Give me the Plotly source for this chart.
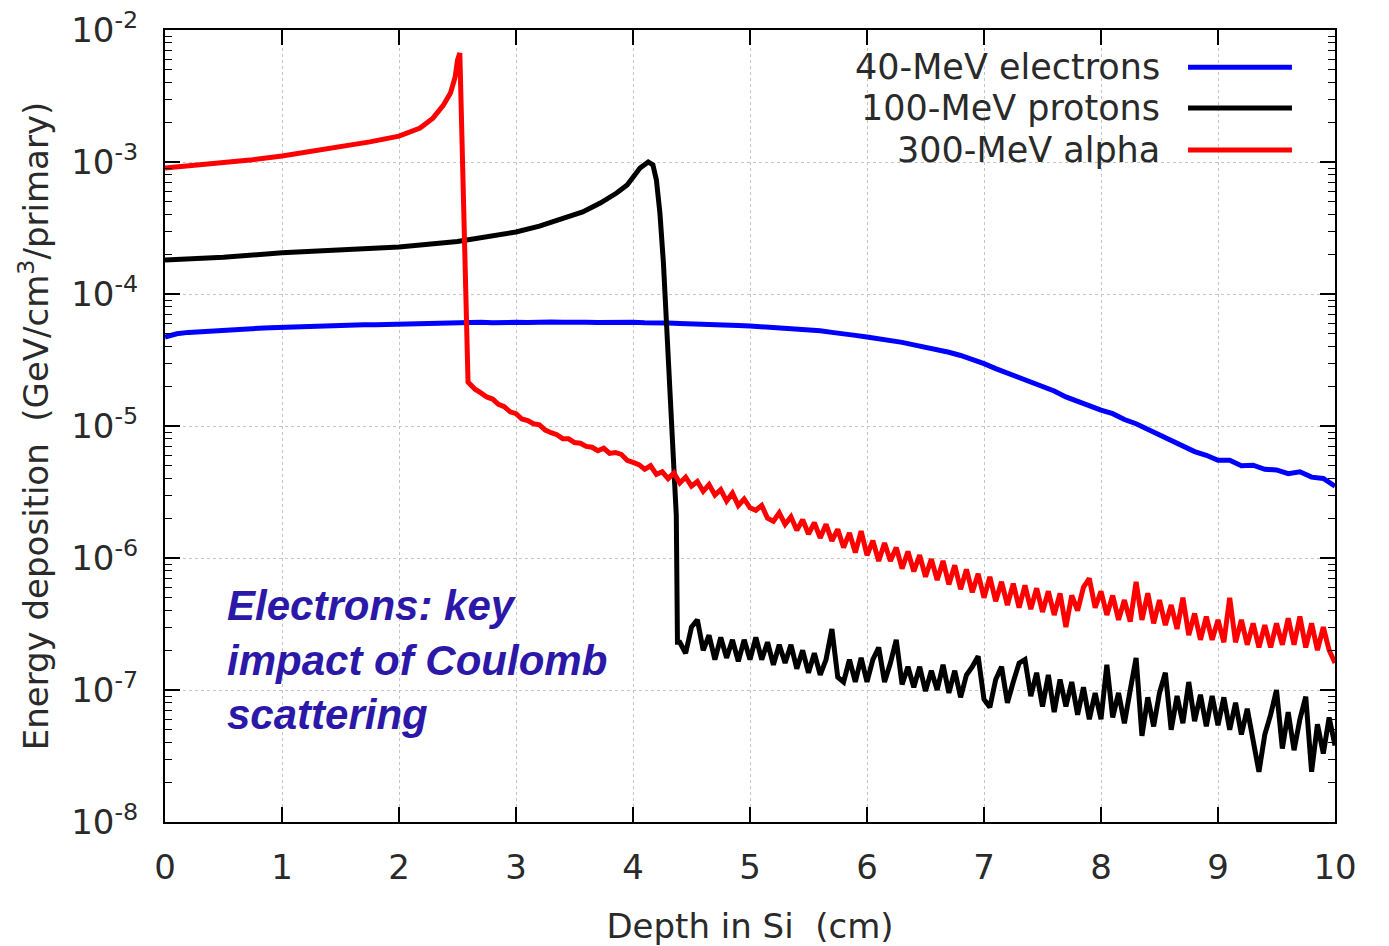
import plotly.graph_objects as go

# ---------------- data ----------------
electron_x = [0.0, 0.1, 0.2, 0.3, 0.4, 0.5, 0.6, 0.7, 0.8, 0.9,
              1.0, 1.1, 1.2, 1.3, 1.4, 1.5, 1.6, 1.7, 1.8, 1.9,
              2.0, 2.1, 2.2, 2.3, 2.4, 2.5, 2.6, 2.7, 2.8, 2.9,
              3.0, 3.1, 3.2, 3.3, 3.4, 3.5, 3.6, 3.7, 3.8, 3.9,
              4.0, 4.1, 4.2, 4.3, 4.4, 4.5, 4.6, 4.7, 4.8, 4.9,
              5.0, 5.1, 5.2, 5.3, 5.4, 5.5, 5.6, 5.7, 5.8, 5.9,
              6.0, 6.1, 6.2, 6.3, 6.4, 6.5, 6.6, 6.7, 6.8, 6.9,
              7.0, 7.1, 7.2, 7.3, 7.4, 7.5, 7.6, 7.7, 7.8, 7.9,
              8.0, 8.1, 8.2, 8.3, 8.4, 8.5, 8.6, 8.7, 8.8, 8.9,
              9.0, 9.1, 9.2, 9.3, 9.4, 9.5, 9.6, 9.7, 9.8, 9.9, 10.0]
electron_y = [4.72e-5, 5.0e-5, 5.12e-5, 5.2e-5, 5.28e-5, 5.35e-5, 5.4e-5, 5.44e-5, 5.5e-5, 5.55e-5,
              5.6e-5, 5.62e-5, 5.66e-5, 5.7e-5, 5.74e-5, 5.76e-5, 5.8e-5, 5.84e-5, 5.86e-5, 5.9e-5,
              5.93e-5, 5.95e-5, 6.0e-5, 6.02e-5, 5.98e-5, 6.05e-5, 6.08e-5, 6.1e-5, 6.05e-5, 6.12e-5,
              6.1e-5, 6.08e-5, 6.15e-5, 6.13e-5, 6.1e-5, 6.14e-5, 6.12e-5, 6.08e-5, 6.12e-5, 6.1e-5,
              6.1e-5, 6.05e-5, 6.08e-5, 6.03e-5, 5.98e-5, 5.96e-5, 5.92e-5, 5.88e-5, 5.82e-5, 5.78e-5,
              5.72e-5, 5.66e-5, 5.58e-5, 5.52e-5, 5.43e-5, 5.36e-5, 5.26e-5, 5.12e-5, 5.02e-5, 4.86e-5,
              4.72e-5, 4.6e-5, 4.46e-5, 4.3e-5, 4.12e-5, 3.96e-5, 3.8e-5, 3.62e-5, 3.42e-5, 3.22e-5,
              2.97e-5, 2.72e-5, 2.52e-5, 2.32e-5, 2.15e-5, 1.96e-5, 1.84e-5, 1.66e-5, 1.53e-5, 1.43e-5,
              1.32e-5, 1.24e-5, 1.12e-5, 1.04e-5, 9.4e-6, 8.7e-6, 7.8e-6, 7.1e-6, 6.4e-6, 6.0e-6,
              5.5e-6, 5.5e-6, 5.0e-6, 5.05e-6, 4.7e-6, 4.65e-6, 4.35e-6, 4.5e-6, 4.1e-6, 4.0e-6, 3.5e-6]

proton_x = [0.0, 0.5, 1.0, 1.5, 2.0, 2.5, 3.0, 3.2, 3.43, 3.57, 3.72, 3.86, 3.95, 4.0, 4.06,
            4.13, 4.17, 4.2, 4.23, 4.26, 4.29, 4.32, 4.34, 4.36, 4.37, 4.38,
            4.40, 4.45, 4.50, 4.55, 4.60, 4.65, 4.70, 4.75, 4.80, 4.85, 4.90, 4.95,
            5.00, 5.05, 5.10, 5.15, 5.20, 5.25, 5.30, 5.35, 5.40, 5.45,
            5.50, 5.55, 5.60, 5.65, 5.70, 5.75, 5.80, 5.85, 5.90, 5.95,
            6.00, 6.05, 6.10, 6.15, 6.20, 6.25, 6.30, 6.35, 6.40, 6.45,
            6.50, 6.55, 6.60, 6.65, 6.70, 6.75, 6.80, 6.85, 6.90, 6.95,
            7.00, 7.05, 7.10, 7.15, 7.20, 7.25, 7.30, 7.35, 7.40, 7.45,
            7.50, 7.55, 7.60, 7.65, 7.70, 7.75, 7.80, 7.85, 7.90, 7.95,
            8.00, 8.05, 8.10, 8.15, 8.20, 8.25, 8.30, 8.35, 8.40, 8.45,
            8.50, 8.55, 8.60, 8.65, 8.70, 8.75, 8.80, 8.85, 8.90, 8.95,
            9.00, 9.05, 9.10, 9.15, 9.20, 9.25, 9.30, 9.35, 9.40, 9.45,
            9.50, 9.55, 9.60, 9.65, 9.70, 9.75, 9.80, 9.85, 9.90, 9.95, 10.00]
proton_y = [1.81e-4, 1.9e-4, 2.05e-4, 2.15e-4, 2.27e-4, 2.5e-4, 2.95e-4, 3.27e-4, 3.77e-4, 4.18e-4,
            4.89e-4, 5.82e-4, 6.7e-4, 7.69e-4, 9.0e-4,
            1.0e-3, 9.5e-4, 7.3e-4, 4.11e-4, 1.72e-4, 5.34e-5, 1.66e-5, 6.58e-6, 2.75e-6, 2.1e-6, 2.3e-7,
            2.3e-7, 1.9e-7, 3.0e-7, 3.4e-7, 2.0e-7, 2.6e-7, 1.7e-7, 2.5e-7, 1.75e-7, 2.4e-7, 1.65e-7, 2.4e-7,
            1.7e-7, 2.5e-7, 1.7e-7, 2.3e-7, 1.55e-7, 2.2e-7, 1.6e-7, 2.2e-7, 1.45e-7, 2.0e-7,
            1.35e-7, 1.9e-7, 1.3e-7, 1.7e-7, 2.9e-7, 1.25e-7, 1.15e-7, 1.7e-7, 1.15e-7, 1.75e-7,
            1.15e-7, 1.7e-7, 2.1e-7, 1.15e-7, 1.6e-7, 2.4e-7, 1.1e-7, 1.5e-7, 1.05e-7, 1.5e-7,
            9.8e-8, 1.4e-7, 1.0e-7, 1.55e-7, 9.5e-8, 1.4e-7, 8.8e-8, 1.3e-7, 1.5e-7, 1.8e-7,
            8.5e-8, 7.4e-8, 1.2e-7, 1.5e-7, 8.0e-8, 1.15e-7, 1.6e-7, 1.7e-7, 9.0e-8, 1.35e-7,
            7.5e-8, 1.3e-7, 6.8e-8, 1.2e-7, 7.5e-8, 1.15e-7, 6.5e-8, 1.05e-7, 6.0e-8, 9.5e-8,
            6.0e-8, 1.55e-7, 6.2e-8, 9.5e-8, 5.6e-8, 1.0e-7, 1.75e-7, 4.5e-8, 8.8e-8, 5.3e-8,
            9.5e-8, 1.35e-7, 5.0e-8, 9.0e-8, 5.6e-8, 1.15e-7, 5.8e-8, 9.2e-8, 5.3e-8, 9.0e-8,
            5.4e-8, 8.8e-8, 5.0e-8, 8.0e-8, 4.6e-8, 7.2e-8, 4.0e-8, 2.4e-8, 4.6e-8, 6.5e-8,
            1.0e-7, 3.6e-8, 6.8e-8, 3.5e-8, 6.0e-8, 8.9e-8, 2.4e-8, 5.5e-8, 3.3e-8, 6.2e-8, 3.8e-8]

alpha_x = [0.0, 0.25, 0.5, 0.75, 1.0, 1.25, 1.5, 1.75, 2.0, 2.18, 2.29, 2.38, 2.44, 2.48, 2.5,
           2.52, 2.59,
           2.65, 2.70, 2.75, 2.80, 2.85, 2.90, 2.95,
           3.00, 3.05, 3.10, 3.15, 3.20, 3.25, 3.30, 3.35, 3.40, 3.45,
           3.50, 3.55, 3.60, 3.65, 3.70, 3.75, 3.80, 3.85, 3.90, 3.95,
           4.00, 4.05, 4.10, 4.15, 4.20, 4.25, 4.30, 4.35, 4.40, 4.45,
           4.50, 4.55, 4.60, 4.65, 4.70, 4.75, 4.80, 4.85, 4.90, 4.95,
           5.00, 5.05, 5.10, 5.15, 5.20, 5.25, 5.30, 5.35, 5.40, 5.45,
           5.50, 5.55, 5.60, 5.65, 5.70, 5.75, 5.80, 5.85, 5.90, 5.95,
           6.00, 6.05, 6.10, 6.15, 6.20, 6.25, 6.30, 6.35, 6.40, 6.45,
           6.50, 6.55, 6.60, 6.65, 6.70, 6.75, 6.80, 6.85, 6.90, 6.95,
           7.00, 7.05, 7.10, 7.15, 7.20, 7.25, 7.30, 7.35, 7.40, 7.45,
           7.50, 7.55, 7.60, 7.65, 7.70, 7.75, 7.80, 7.85, 7.90, 7.95,
           8.00, 8.05, 8.10, 8.15, 8.20, 8.25, 8.30, 8.35, 8.40, 8.45,
           8.50, 8.55, 8.60, 8.65, 8.70, 8.75, 8.80, 8.85, 8.90, 8.95,
           9.00, 9.05, 9.10, 9.15, 9.20, 9.25, 9.30, 9.35, 9.40, 9.45,
           9.50, 9.55, 9.60, 9.65, 9.70, 9.75, 9.80, 9.85, 9.90, 9.95, 10.00]
alpha_y = [9.0e-4, 9.4e-4, 9.8e-4, 1.04e-3, 1.11e-3, 1.2e-3, 1.3e-3, 1.42e-3, 1.57e-3, 1.81e-3,
           2.15e-3, 2.7e-3, 3.33e-3, 4.4e-3, 5.93e-3,
           6.7e-3, 2.15e-5,
           1.9e-5, 1.78e-5, 1.66e-5, 1.6e-5, 1.46e-5, 1.4e-5, 1.28e-5,
           1.24e-5, 1.13e-5, 1.1e-5, 1.04e-5, 1.02e-5, 9.3e-6, 8.9e-6, 8.6e-6, 8.0e-6, 8.0e-6,
           7.5e-6, 7.4e-6, 7.0e-6, 6.9e-6, 6.5e-6, 6.8e-6, 6.2e-6, 6.3e-6, 6.1e-6, 5.5e-6,
           5.3e-6, 5.1e-6, 4.7e-6, 5.0e-6, 4.3e-6, 4.5e-6, 4.0e-6, 4.4e-6, 3.7e-6, 4.1e-6,
           3.5e-6, 3.8e-6, 3.2e-6, 3.6e-6, 3.0e-6, 3.3e-6, 2.7e-6, 3.1e-6, 2.5e-6, 2.8e-6,
           2.4e-6, 2.3e-6, 2.5e-6, 2.0e-6, 1.9e-6, 2.2e-6, 1.8e-6, 2.05e-6, 1.62e-6, 1.95e-6,
           1.52e-6, 1.85e-6, 1.42e-6, 1.8e-6, 1.35e-6, 1.65e-6, 1.2e-6, 1.55e-6, 1.1e-6, 1.6e-6,
           1.05e-6, 1.35e-6, 9.5e-7, 1.3e-6, 9.5e-7, 1.2e-6, 8.3e-7, 1.12e-6, 7.9e-7, 1.05e-6,
           7.2e-7, 9.8e-7, 6.8e-7, 9.5e-7, 6.3e-7, 8.8e-7, 5.8e-7, 8.2e-7, 5.5e-7, 7.6e-7,
           5.0e-7, 7.2e-7, 4.7e-7, 6.6e-7, 4.4e-7, 6.4e-7, 4.2e-7, 6.2e-7, 4.1e-7, 5.9e-7,
           3.9e-7, 5.6e-7, 3.7e-7, 5.4e-7, 3.0e-7, 5.2e-7, 4.0e-7, 6.0e-7, 7.0e-7, 4.2e-7,
           5.6e-7, 3.7e-7, 5.2e-7, 3.4e-7, 4.8e-7, 3.3e-7, 6.6e-7, 3.4e-7, 5.4e-7, 3.2e-7,
           4.8e-7, 3.1e-7, 4.4e-7, 2.9e-7, 5.0e-7, 2.6e-7, 3.8e-7, 2.4e-7, 3.6e-7, 2.4e-7,
           3.4e-7, 2.3e-7, 5.0e-7, 2.3e-7, 3.4e-7, 2.2e-7, 3.2e-7, 2.1e-7, 3.1e-7, 2.1e-7,
           3.2e-7, 2.2e-7, 3.5e-7, 2.2e-7, 3.6e-7, 2.1e-7, 3.2e-7, 2.0e-7, 3.0e-7, 2.0e-7, 1.6e-7]

series_names = ["40-MeV electrons", "100-MeV protons", "300-MeV alpha"]
series_colors = ["#0000ff", "#000000", "#ff0000"]

x_tick_vals = [0, 1, 2, 3, 4, 5, 6, 7, 8, 9, 10]
y_tick_vals = [1e-8, 1e-7, 1e-6, 1e-5, 1e-4, 1e-3, 1e-2]
y_tick_text = ["10<sup>-8</sup>", "10<sup>-7</sup>", "10<sup>-6</sup>", "10<sup>-5</sup>",
               "10<sup>-4</sup>", "10<sup>-3</sup>", "10<sup>-2</sup>"]
y_minor_vals = [m * 10.0 ** e for e in range(-8, -2) for m in range(2, 10)]

note_text = "Electrons: key<br>impact of Coulomb<br>scattering"

# ---------------- figure ----------------
TXT = "#2a2a2a"
FONT = "DejaVu Sans"

fig = go.Figure()
for xs, ys, name, col in [(electron_x, electron_y, series_names[0], series_colors[0]),
                          (proton_x, proton_y, series_names[1], series_colors[1]),
                          (alpha_x, alpha_y, series_names[2], series_colors[2])]:
    fig.add_trace(go.Scatter(x=xs, y=ys, mode="lines", name=name,
                             line=dict(color=col, width=5), showlegend=False))

fig.update_layout(
    width=1389, height=946,
    margin=dict(l=165, r=54, t=30, b=124),
    paper_bgcolor="white", plot_bgcolor="white",
    font=dict(family=FONT, color=TXT, size=34),
)

fig.update_xaxes(
    range=[0, 10], tickvals=x_tick_vals, ticks="inside", ticklen=15, tickwidth=1.5,
    tickcolor="black", showline=True, linecolor="black", linewidth=2, mirror="ticks",
    showgrid=True, gridcolor="#c4c4c4", griddash="dot", gridwidth=1.2, zeroline=False,
    tickfont=dict(size=34, color=TXT, family=FONT), ticklabelstandoff=14, automargin=False,
    title=dict(text="Depth in Si  (cm)", font=dict(size=34, color=TXT, family=FONT), standoff=30),
)
fig.update_yaxes(
    type="log", range=[-8, -2], tickvals=y_tick_vals, ticktext=y_tick_text,
    ticks="inside", ticklen=15, tickwidth=1.5, tickcolor="black",
    showline=True, linecolor="black", linewidth=2, mirror="ticks",
    showgrid=True, gridcolor="#c4c4c4", griddash="dot", gridwidth=1.2, zeroline=False,
    minor=dict(tickvals=y_minor_vals, ticks="inside", ticklen=7, tickwidth=1.2,
               tickcolor="black", showgrid=False),
    tickfont=dict(size=34, color=TXT, family=FONT), ticklabelstandoff=18, automargin=False,
    title=dict(text="Energy deposition  (GeV/cm<sup>3</sup>/primary)",
               font=dict(size=34, color=TXT, family=FONT), standoff=12),
)

# legend drawn gnuplot-style: right-aligned text, sample line on the right
leg_y = [0.953, 0.9015, 0.8485]
for name, col, yy in zip(series_names, series_colors, leg_y):
    fig.add_annotation(x=0.852, y=yy, xref="paper", yref="paper", text=name,
                       showarrow=False, xanchor="right", yanchor="middle",
                       font=dict(size=35, color=TXT, family=FONT))
    fig.add_shape(type="line", xref="paper", yref="paper", x0=0.8744, x1=0.9632,
                  y0=yy, y1=yy, line=dict(color=col, width=5))

fig.add_annotation(x=0.0513, y=0.204, xref="paper", yref="paper", text=note_text,
                   showarrow=False, xanchor="left", yanchor="middle", align="left",
                   font=dict(size=42, color="#2b18a8", family="Liberation Sans",
                             weight="bold", style="italic"))

fig.write_html("out.html")
